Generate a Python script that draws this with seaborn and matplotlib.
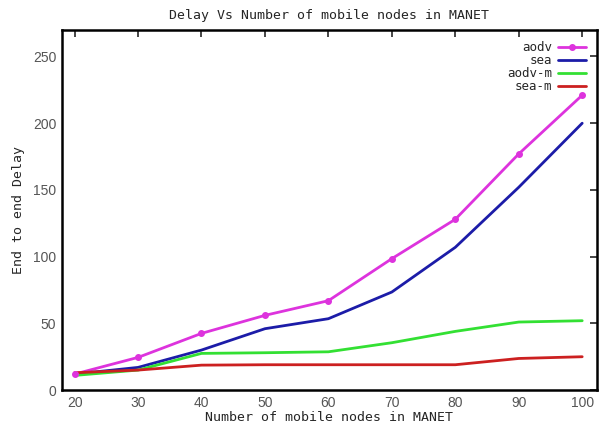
import pandas as pd
import seaborn as sns
from matplotlib import pyplot as plt

nodes = [20, 30, 40, 50, 60, 70, 80, 90, 100]
aodv = [12, 24.5, 42.5, 56, 67, 98.5, 128, 177, 221]
sea = [12, 17, 30, 46, 53.5, 73.5, 107, 152, 200]
aodv_m = [11, 15, 27.5, 28, 28.7, 35.5, 44, 51, 52]
sea_m = [13, 15, 18.7, 19, 19, 19, 19, 23.7, 25]

series = {'aodv': aodv, 'sea': sea, 'aodv-m': aodv_m, 'sea-m': sea_m}
colors = {'aodv': '#dd33dd', 'sea': '#1c1ca8', 'aodv-m': '#33e033', 'sea-m': '#cc2020'}

df = pd.concat([pd.DataFrame({'nodes': nodes, 'delay': v, 'protocol': k})
                for k, v in series.items()], ignore_index=True)

sns.set_style('white')
fig = plt.figure(figsize=(6.01, 4.32), dpi=100)
ax = fig.add_axes([0.103, 0.097, 0.890, 0.834])

sns.lineplot(x='nodes', y='delay', hue='protocol', data=df, palette=colors,
             linewidth=2, ax=ax, legend=False)
# only aodv has point markers
ax.plot(nodes, aodv, 'o', color=colors['aodv'], markersize=4)

for k in series:
    ax.plot([], [], color=colors[k], lw=2, marker='o' if k == 'aodv' else None,
            markersize=4, label=k)

mono = 'DejaVu Sans Mono'
ax.legend(loc='upper right', frameon=False, markerfirst=False, handlelength=2.2,
          labelspacing=0.0, borderaxespad=0.5, handletextpad=0.5,
          prop={'family': mono, 'size': 9})

ax.set_xlim(18, 102.3)
ax.set_ylim(0, 270)
ax.set_xticks(nodes)
ax.set_yticks([0, 50, 100, 150, 200, 250])
ax.tick_params(direction='in', length=5, width=1.2, top=True, right=True,
               labelsize=10, labelcolor='#555555', pad=4)
for lab in ax.get_xticklabels() + ax.get_yticklabels():
    lab.set_family('Liberation Sans')
for s in ax.spines.values():
    s.set_linewidth(1.8)
    s.set_color('black')

ax.set_xlabel('Number of mobile nodes in MANET', family=mono, fontsize=9.5, labelpad=1)
ax.set_ylabel('End to end Delay', family=mono, fontsize=9.5, labelpad=6)
ax.set_title('Delay Vs Number of mobile nodes in MANET', family=mono, fontsize=9.5, pad=8)

plt.savefig('out.png', dpi=100)
